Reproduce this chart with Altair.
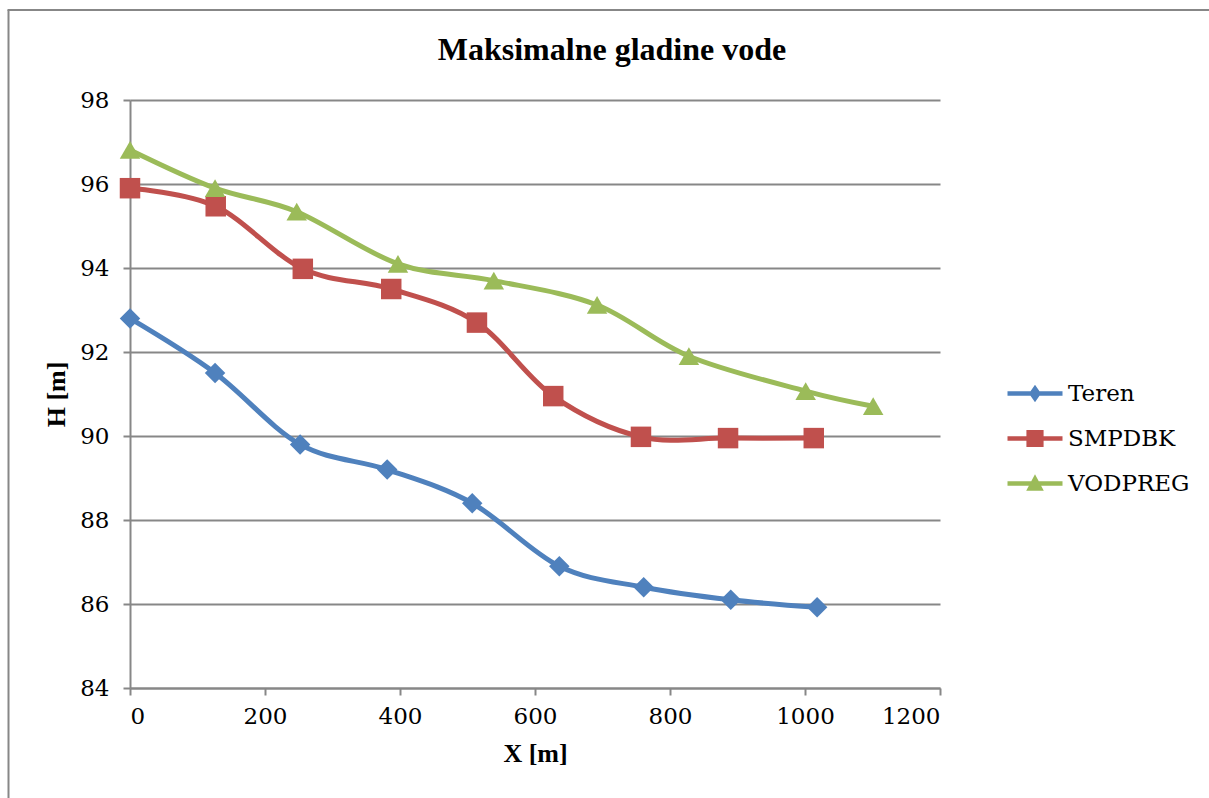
import altair as alt
import pandas as pd

series_names = ["Teren", "SMPDBK", "VODPREG"]
x_teren = [0, 126, 252, 381, 507, 636, 761, 890, 1018]
h_teren = [92.8, 91.5, 89.8, 89.2, 88.4, 86.9, 86.4, 86.1, 85.92]
x_smpdbk = [0, 127, 256, 387, 514, 627, 757, 886, 1013]
h_smpdbk = [95.9, 95.47, 93.98, 93.5, 92.7, 90.95, 89.98, 89.95, 89.95]
x_vodpreg = [0, 126, 247, 397, 539, 692, 828, 1001, 1101]
h_vodpreg = [96.81, 95.9, 95.34, 94.1, 93.7, 93.12, 91.9, 91.07, 90.71]
x_ticks = [0, 200, 400, 600, 800, 1000, 1200]
y_ticks = [84, 86, 88, 90, 92, 94, 96, 98]

colors = ["#4F81BD", "#C0504D", "#9BBB59"]
shapes = ["diamond", "square", "triangle-up"]
legend_shapes = [
    "M-2.5,-0.2H2.5V0.2H-2.5Z M0,-0.8L0.55,0L0,0.8L-0.55,0Z",
    "M-2.5,-0.2H2.5V0.2H-2.5Z M-0.78,-0.78H0.78V0.78H-0.78Z",
    "M-2.5,-0.2H2.5V0.2H-2.5Z M0,-0.85L0.8,0.65L-0.8,0.65Z",
]

rows = []
for name, xs, hs in [("Teren", x_teren, h_teren), ("SMPDBK", x_smpdbk, h_smpdbk),
                     ("VODPREG", x_vodpreg, h_vodpreg)]:
    for xv, hv in zip(xs, hs):
        rows.append({"series": name, "x": xv, "h": hv})
df = pd.DataFrame(rows)

FONT_BOLD = "Liberation Serif"
FONT_REG = "DejaVu Serif"
GRAY = "#878787"

xsc = alt.Scale(domain=[0, 1200], nice=False, zero=False)
ysc = alt.Scale(domain=[84, 98], nice=False, zero=False)

x_enc = alt.X("x:Q", scale=xsc, title="X [m]",
              axis=alt.Axis(values=x_ticks, format="d", grid=False, domainColor=GRAY, domainWidth=2,
                            tickColor=GRAY, tickWidth=2, tickSize=7, labelFont=FONT_REG,
                            labelFontSize=23, labelColor="black", labelPadding=10,
                            titleFont=FONT_BOLD, titleFontSize=26, titleFontWeight="bold",
                            titleColor="black", titlePadding=12))
y_enc = alt.Y("h:Q", scale=ysc, title="H [m]",
              axis=alt.Axis(values=y_ticks, format="d", grid=True, gridColor=GRAY, gridWidth=2,
                            domainColor=GRAY, domainWidth=2, tickColor=GRAY, tickWidth=2,
                            tickSize=7, labelFont=FONT_REG, labelFontSize=23, labelColor="black",
                            labelPadding=14, titleFont=FONT_BOLD, titleFontSize=26,
                            titleFontWeight="bold", titleColor="black", titlePadding=10))

color_plain = alt.Color("series:N", scale=alt.Scale(domain=series_names, range=colors), legend=None)

lines = alt.Chart(df).mark_line(interpolate="cardinal", strokeWidth=5).encode(
    x=x_enc, y=y_enc, color=color_plain, detail="series:N")

points = alt.Chart(df).mark_point(filled=True, size=420, opacity=1).encode(
    x=alt.X("x:Q", scale=xsc), y=alt.Y("h:Q", scale=ysc), color=color_plain,
    shape=alt.Shape("series:N", scale=alt.Scale(domain=series_names, range=shapes), legend=None))

leg = alt.Legend(orient="none", legendX=893.5, legendY=282, title=None, padding=0,
                 labelFont=FONT_REG, labelFontSize=23, labelColor="black", labelOffset=21.5,
                 symbolSize=484, symbolStrokeWidth=0, symbolOpacity=1, rowPadding=21)
legend_layer = alt.Chart(df).mark_point(filled=True, size=484, opacity=0).encode(
    x=alt.value(0), y=alt.value(0),
    color=alt.Color("series:N", scale=alt.Scale(domain=series_names, range=colors), legend=leg),
    shape=alt.Shape("series:N", scale=alt.Scale(domain=series_names, range=legend_shapes), legend=leg))

one = pd.DataFrame({"z": [0]})
border_left = alt.Chart(one).mark_rule(color=GRAY, strokeWidth=2).encode(
    x=alt.value(-121.5), y=alt.value(-90), y2=alt.value(720))
border_top = alt.Chart(one).mark_rule(color=GRAY, strokeWidth=2).encode(
    y=alt.value(-90), x=alt.value(-122.5), x2=alt.value(1100))

chart = alt.layer(border_left, border_top, lines, points, legend_layer).resolve_scale(
    color="independent", shape="independent"
).properties(
    width=810, height=588,
    title=alt.TitleParams("Maksimalne gladine vode", font=FONT_BOLD, fontSize=32, fontWeight="bold",
                          color="black", anchor="middle", dx=77, offset=-83, baseline="alphabetic"),
    autosize=alt.AutoSizeParams(type="none"),
    padding={"left": 130, "top": 100, "right": 269, "bottom": 110},
    background="white",
).configure_view(stroke=None)

chart.save("out.html", embed_options={"renderer": "svg", "actions": False})
